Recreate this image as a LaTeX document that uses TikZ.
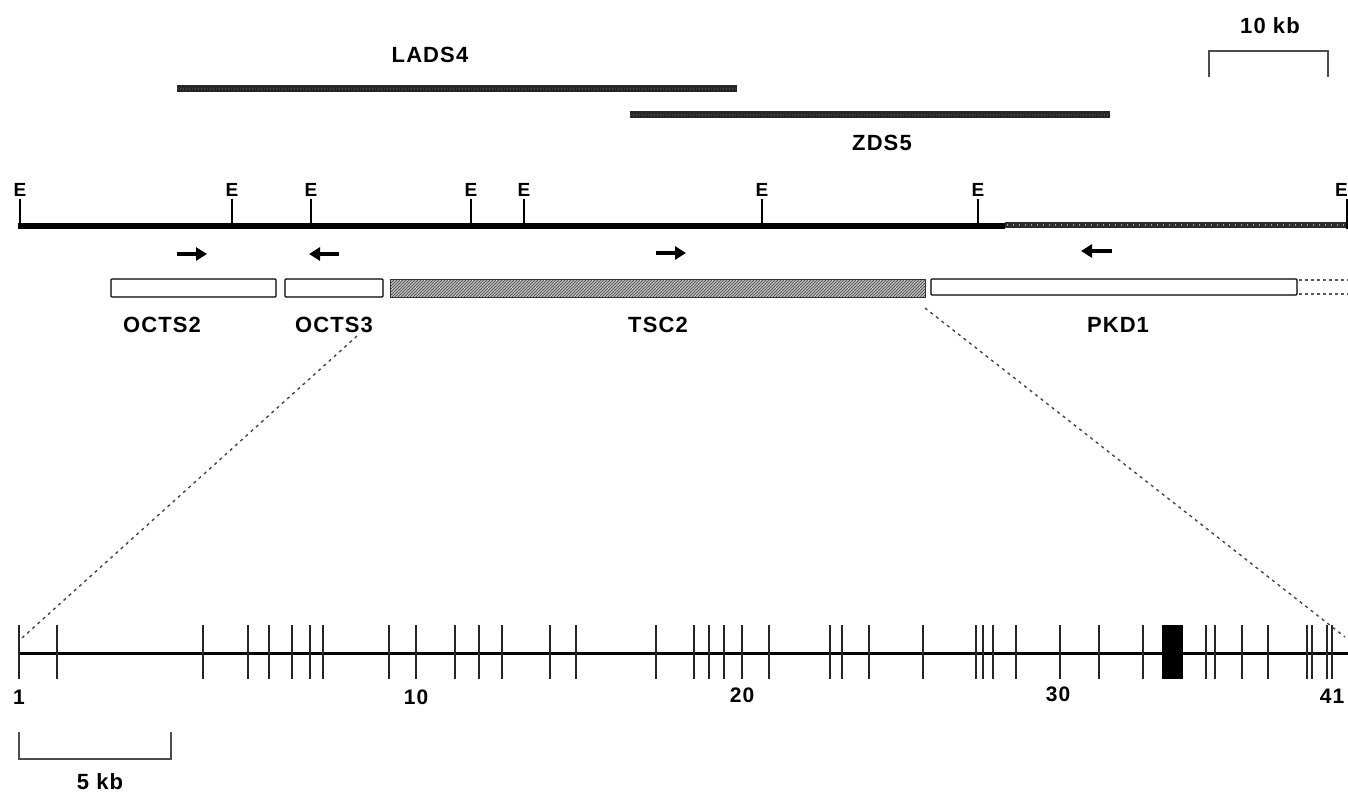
\documentclass[tikz,border=0pt]{standalone}
\usepackage{fontspec}
\setmainfont{Liberation Sans}[LetterSpace=5]
\usetikzlibrary{arrows.meta,patterns}
\begin{document}
\begin{tikzpicture}[x=1pt,y=-1pt,
  lbl/.style={font=\fontsize{22}{24}\selectfont\bfseries, inner sep=0pt},
  elbl/.style={font=\fontsize{19}{20}\selectfont\bfseries, inner sep=0pt},
  numlbl/.style={font=\fontsize{21}{22}\selectfont\bfseries, inner sep=0pt},
  etick/.style={line width=1.3pt},
  exon/.style={line width=2.2pt, black!85},
  dirarrow/.style={line width=4pt, -{Triangle[length=11pt,width=13pt]}},
  genebox/.style={draw, line width=1.3pt, rounded corners=1pt},
  zoomline/.style={gray!55!black, line width=1.4pt, dash pattern=on 3pt off 4pt},
  clone/.style={line width=7pt, gray!30!black},
  clonetex/.style={line width=1.5pt, gray!55!black, dash pattern=on 1pt off 2pt},
  scalebar/.style={line width=1.5pt, gray!60!black}]
\useasboundingbox (0,0) rectangle (1348,794);
\fill[white] (0,0) rectangle (1348,794);

% 10 kb scale bar
\node[lbl] (s10) at (1270,26) {10 kb};
\coordinate (s10a) at (1209,77);
\coordinate (s10b) at (1328,77);
\draw[scalebar] (s10a) -- ++(0,-26) -| (s10b);

% clones
\node[lbl] (lads) at (430,55) {LADS4};
\coordinate (ladsA) at (177,89); \coordinate (ladsB) at (737,89);
\draw[clone] (ladsA) -- (ladsB);
\draw[clonetex] (ladsA) -- (ladsB);
\coordinate (zdsA) at (630,115); \coordinate (zdsB) at (1110,115);
\draw[clone] (zdsA) -- (zdsB);
\draw[clonetex] (zdsA) -- (zdsB);
\node[lbl] (zds) at (882,143) {ZDS5};

% genomic map line
\coordinate (mapA) at (18,226);
\coordinate (mapM) at (1005,226);
\coordinate (mapB) at (1348,225);
\draw[line width=6pt] (mapA) -- (mapM);
\draw[line width=6pt, gray!35!black] (1005,225) -- (mapB);
\draw[line width=2pt, gray!80, dash pattern=on 1pt off 5pt] (1007,225) -- (mapB);

% EcoRI sites
\foreach \x [count=\i] in {20,232,311,471,524,762,978} {
  \draw[etick] (\x,229) -- (\x,199);
  \node[elbl] (E\i) at (\x,190) {E};
}
\draw[etick] (1347,229) -- (1347,199);
\node[elbl, anchor=east] (E8) at (1348,190) {E};

% transcription direction arrows
\draw[dirarrow] (177,254) -- (207,254);
\draw[dirarrow] (339,254) -- (309,254);
\draw[dirarrow] (656,253) -- (686,253);
\draw[dirarrow] (1112,251) -- (1081,251);

% genes
\draw[genebox] (111,279) rectangle (276,297);
\draw[genebox] (285,279) rectangle (383,297);
\fill[gray!50] (390,279) rectangle (925,297);
\fill[pattern=north east lines, pattern color=black!75] (390,279) rectangle (925,297);
\draw[line width=1pt, gray!40!black] (390,279) rectangle (925,297);
\draw[genebox] (931,279) rectangle (1297,295);
\draw[line width=1.3pt, gray!70!black, dash pattern=on 3pt off 3pt] (1299,280) -- (1348,280);
\draw[line width=1.3pt, gray!70!black, dash pattern=on 3pt off 3pt] (1299,294) -- (1348,294);

\node[lbl] (octs2) at (162,325) {OCTS2};
\node[lbl] (octs3) at (334,325) {OCTS3};
\node[lbl] (tsc2) at (658,325) {TSC2};
\node[lbl] (pkd1) at (1118,325) {PKD1};

% zoom lines
\coordinate (zl1) at (357,336);
\coordinate (zl2) at (22,638);
\coordinate (zr1) at (925,308);
\coordinate (zr2) at (1345,637);
\draw[zoomline] (zl1) -- (zl2);
\draw[zoomline] (zr1) -- (zr2);

% TSC2 exon map
\coordinate (exA) at (18,653);
\coordinate (exB) at (1348,653);
\draw[line width=3pt] (exA) -- (exB);
\foreach \x in {19,57,203,248,269,292,310,323,389,416,455,479,502,550,576,656,694,709,724,742,769,830,842,869,923,976,983,993,1016,1060,1099,1143,1206,1215,1242,1268,1307,1312,1327,1332}
  \draw[exon] (\x,625) -- (\x,679);
\fill (1162,625) rectangle (1183,679);

\node[numlbl] (n1) at (19,697) {1};
\node[numlbl] (n10) at (416,697) {10};
\node[numlbl] (n20) at (742,695) {20};
\node[numlbl] (n30) at (1058,694) {30};
\node[numlbl] (n41) at (1332,696) {41};

% 5 kb scale bar
\coordinate (s5a) at (19,732);
\coordinate (s5b) at (171,732);
\draw[scalebar] (s5a) -- ++(0,27) -| (s5b);
\node[lbl] (s5) at (100,782) {5 kb};
\end{tikzpicture}
\end{document}
